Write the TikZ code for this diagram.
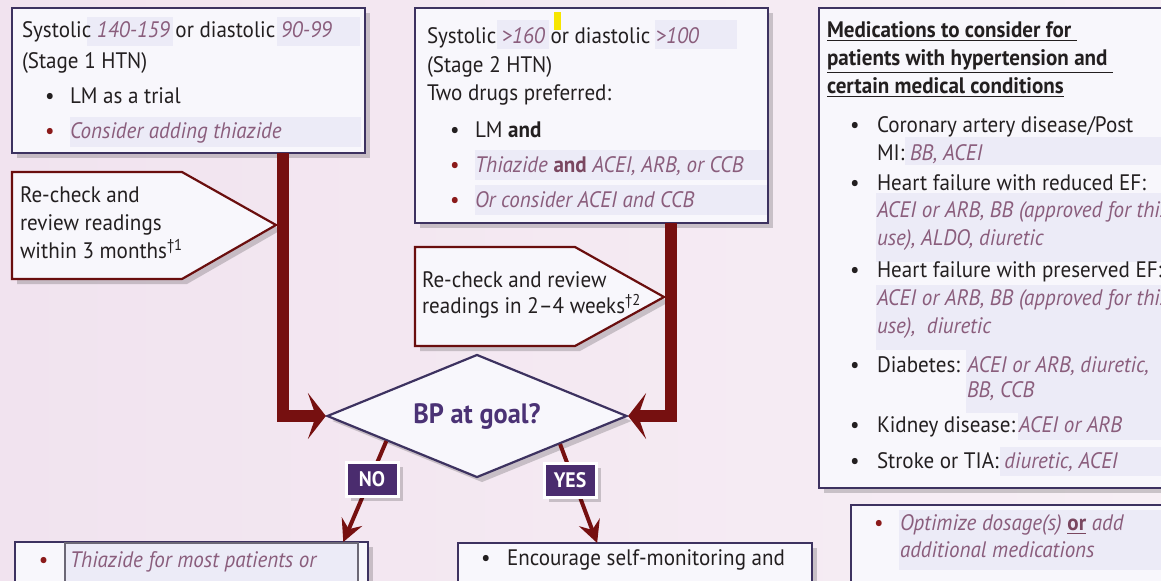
\documentclass[tikz,border=0pt]{standalone}
\usepackage{fontspec}
\setmainfont{PT Sans}[FakeStretch=0.94]
\usetikzlibrary{arrows.meta,shapes.geometric,shadows,calc}
\definecolor{bgL}{HTML}{F1E3EF}
\definecolor{bgR}{HTML}{F7EFF5}
\definecolor{boxfill}{HTML}{F8F7FC}
\definecolor{boxline}{HTML}{3D3260}
\definecolor{arrowred}{HTML}{761010}
\definecolor{mauve}{HTML}{8A5D7C}
\definecolor{mauvebold}{HTML}{7A4760}
\definecolor{hlcol}{HTML}{ECEBF7}
\definecolor{txtdark}{HTML}{231F20}
\definecolor{lblpurple}{HTML}{4A2C6E}
\definecolor{goalpurple}{HTML}{4B3275}
\definecolor{bulred}{HTML}{8B1A1A}
\definecolor{markyellow}{HTML}{F6E500}
\newcommand{\mv}[1]{{\color{mauve}\itshape #1}}
\begin{document}
\begin{tikzpicture}[x=0.5pt,y=-0.5pt,
 shadowed/.style={drop shadow={shadow xshift=2.5pt,shadow yshift=-2.5pt,opacity=0.18,fill=black}},
 box/.style={draw=boxline, line width=1.1pt, fill=boxfill, shadowed, anchor=north west, inner sep=0pt, outer sep=0pt},
 pent/.style={draw=arrowred!90!black, line width=1.1pt, fill=boxfill, shadowed},
 txt/.style={anchor=base west, inner sep=0pt, outer sep=0pt, text=txtdark, font=\fontsize{11.2}{13}\selectfont},
 ittxt/.style={txt, text=mauve, font=\fontsize{11.2}{13}\selectfont\itshape},
 rbul/.style={txt, text=bulred},
 flow/.style={draw=arrowred, line width=6pt, line join=miter, -{Stealth[length=9pt,width=23pt,inset=4pt]}},
 branch/.style={draw=arrowred, line width=2pt, -{Stealth[length=11pt,width=11pt,inset=4pt]}},
 lbl/.style={fill=lblpurple, draw=white, line width=1.5pt, text=white, font=\fontsize{10.5}{12}\selectfont\bfseries, minimum width=26pt, minimum height=17pt, inner sep=0pt, shadowed},
 hl/.style={fill=hlcol}
]
\useasboundingbox (0,0) rectangle (1161,580);
\clip (0,0) rectangle (1161,580);
\shade[left color=bgL, right color=bgR] (0,0) rectangle (1161,580);

% ---------- boxes ----------
\node[box, minimum width=176.5pt, minimum height=72.5pt] (b1) at (12,8) {};
\node[box, minimum width=176.5pt, minimum height=107.5pt] (b2) at (415,8) {};
\node[box, minimum width=178pt, minimum height=240pt] (b3) at (819,8) {};
\node[box, minimum width=162pt, minimum height=50pt] (b4) at (851,505) {};
\node[box, minimum width=176.5pt, minimum height=30pt] (b5) at (15,542) {};
\node[box, minimum width=177pt, minimum height=30pt] (b6) at (458,543) {};

% ---------- highlights ----------
\fill[hl] (87,17) rectangle (173,46);
\fill[hl] (277,17) rectangle (360,46);
\fill[hl] (70,117) rectangle (361,147);
\fill[hl] (497,20) rectangle (549,49);
\fill[hl] (655,20) rectangle (737,49);
\fill[hl] (475,150) rectangle (767,180);
\fill[hl] (475,185) rectangle (767,215);
\fill[markyellow] (554,12) rectangle (561,30);
\fill[hl] (905,137) rectangle (1161,165);
\fill[hl] (876,193) rectangle (1161,262);
\fill[hl] (876,285) rectangle (1161,350);
\fill[hl] (966,350) rectangle (1161,413);
\fill[hl] (1018,412) rectangle (1161,440);
\fill[hl] (1000,447) rectangle (1161,476);
\fill[hl] (899,510) rectangle (1161,570);
\draw[fill=hlcol, draw=gray!70!boxline, line width=0.8pt] (65,543) rectangle (358,600);

% ---------- box 1 text ----------
\node[txt] (t11) at (22,37) {Systolic \mv{140-159} or diastolic \mv{90-99}};
\node[txt] (t12) at (22,68) {(Stage 1 HTN)};
\node[txt] (t13b) at (45,103) {\textbullet};
\node[txt] (t13) at (70,103) {LM as a trial};
\node[rbul] (t14b) at (45,138) {\textbullet};
\node[ittxt] (t14) at (70,138) {Consider adding thiazide};

% ---------- box 2 text ----------
\node[txt] (t21) at (427,43) {Systolic \mv{>160} or diastolic \mv{>100}};
\node[txt] (t22) at (427,72) {(Stage 2 HTN)};
\node[txt] (t23) at (427,100) {Two drugs preferred:};
\node[txt] (t24b) at (450,137) {\textbullet};
\node[txt] (t24) at (475,137) {LM \textbf{and}};
\node[rbul] (t25b) at (450,172) {\textbullet};
\node[ittxt] (t25) at (475,172) {Thiazide {\upshape\bfseries\color{mauvebold}and} ACEI, ARB, or CCB};
\node[rbul] (t26b) at (450,207) {\textbullet};
\node[ittxt] (t26) at (475,207) {Or consider ACEI and CCB};

% ---------- right box text ----------
\node[txt, font=\fontsize{11.2}{13}\selectfont\bfseries] (h1) at (827,37) {\underline{Medications to consider for\ }};
\node[txt, font=\fontsize{11.2}{13}\selectfont\bfseries] (h2) at (827,65) {\underline{patients with hypertension and\ }};
\node[txt, font=\fontsize{11.2}{13}\selectfont\bfseries] (h3) at (827,93) {\underline{certain medical conditions}};
\node[txt] (r1b) at (850,132) {\textbullet};
\node[txt] (r1) at (877,132) {Coronary artery disease/Post};
\node[txt] (r1c) at (877,160) {MI: \mv{BB, ACEI}};
\node[txt] (r2b) at (850,190) {\textbullet};
\node[txt] (r2) at (877,190) {Heart failure with reduced EF:};
\node[ittxt] (r2c) at (877,217) {ACEI or ARB, BB (approved for this};
\node[ittxt] (r2d) at (877,245) {use), ALDO, diuretic};
\node[txt] (r3b) at (850,277) {\textbullet};
\node[txt] (r3) at (877,277) {Heart failure with preserved EF:};
\node[ittxt] (r3c) at (877,305) {ACEI or ARB, BB (approved for this};
\node[ittxt] (r3d) at (877,333) {use),\ \ diuretic};
\node[txt] (r4b) at (850,372) {\textbullet};
\node[txt] (r4) at (877,372) {Diabetes: \mv{ACEI or ARB, diuretic,}};
\node[ittxt] (r4c) at (967,397) {BB, CCB};
\node[txt] (r5b) at (850,432) {\textbullet};
\node[txt] (r5) at (877,432) {Kidney disease:\,\mv{ACEI or ARB}};
\node[txt] (r6b) at (850,468) {\textbullet};
\node[txt] (r6) at (877,468) {Stroke or TIA: \mv{diuretic, ACEI}};

% ---------- bottom boxes text ----------
\node[rbul] (o1b) at (874,530) {\textbullet};
\node[ittxt] (o1) at (900,530) {Optimize dosage(s) {\upshape\bfseries\color{mauvebold}\underline{or}} add};
\node[ittxt] (o2) at (900,557) {additional medications};
\node[rbul] (l1b) at (39,567) {\textbullet};
\node[ittxt] (l1) at (70,567) {Thiazide for most patients or};
\node[txt] (m1b) at (481,565) {\textbullet};
\node[txt] (m1) at (507,565) {Encourage self-monitoring and};

% ---------- pentagons ----------
\coordinate (p1a) at (12,172); \coordinate (p1b) at (182,172); \coordinate (p1tip) at (276,225);
\coordinate (p1c) at (182,279); \coordinate (p1d) at (12,279);
\draw[pent] (p1a) -- (p1b) -- (p1tip) -- (p1c) -- (p1d) -- cycle;
\node[txt] (q11) at (20,202) {Re-check and};
\node[txt] (q12) at (20,230) {review readings};
\node[txt] (q13) at (20,258) {within 3 months\textsuperscript{\dag1}};

\coordinate (p2a) at (415,247); \coordinate (p2b) at (575,247); \coordinate (p2tip) at (664,297);
\coordinate (p2c) at (575,346); \coordinate (p2d) at (415,346);
\draw[pent] (p2a) -- (p2b) -- (p2tip) -- (p2c) -- (p2d) -- cycle;
\node[txt] (q21) at (422,287) {Re-check and review};
\node[txt] (q22) at (422,313) {readings in 2--4 weeks\textsuperscript{\dag2}};

% ---------- diamond ----------
\node[diamond, draw=boxline, line width=1.1pt, fill=boxfill, shadowed, minimum width=150pt, minimum height=61.5pt, inner sep=0pt, aspect=2.4,
      text=goalpurple, font=\fontsize{14}{15}\selectfont\bfseries] (dia) at (477,416) {BP at goal?};

% ---------- connectors ----------
\draw[flow] ($(b1.south west)!0.768!(b1.south east)$) |- (dia.west);
\draw[flow] ($(b2.south west)!0.725!(b2.south east)$) |- (dia.east);
\draw[branch] ($(dia.west)!0.4!(dia.south)$) -- ($(b5.north west)!0.93!(b5.north east)$);
\draw[branch] ($(dia.south)!0.55!(dia.east)$) -- ($(b6.north west)!0.393!(b6.north east)$);
\node[lbl] (no) at (372,479) {NO};
\node[lbl] (yes) at (570,480) {YES};
\end{tikzpicture}
\end{document}
